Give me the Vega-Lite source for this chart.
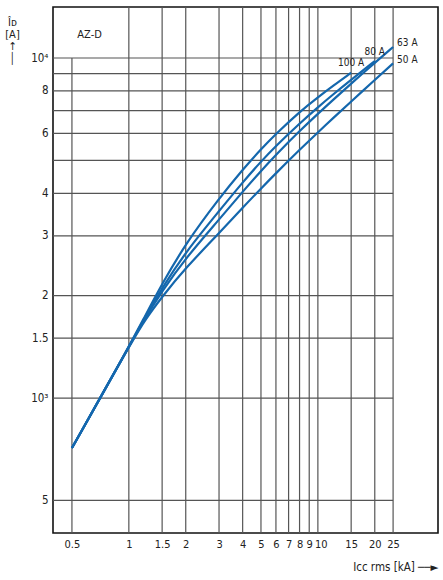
{
  "$schema": "https://vega.github.io/schema/vega-lite/v6.json",
  "width": 385,
  "height": 526,
  "autosize": {"type": "none"},
  "padding": {"left": 53, "top": 7, "right": 5, "bottom": 47},
  "background": "white",
  "config": {
    "font": "Liberation Sans Narrow, DejaVu Sans Condensed, sans-serif",
    "view": {"stroke": "#111", "strokeWidth": 1.6},
    "axis": {"labelColor": "#222", "titleColor": "#222", "titleFontWeight": "normal"}
  },
  "datasets": {
    "curves": [
      {"c": "100 A", "x": 0.5, "y": 713}, {"c": "100 A", "x": 1, "y": 1413}, {"c": "100 A", "x": 1.2, "y": 1715},
      {"c": "100 A", "x": 1.5, "y": 2168}, {"c": "100 A", "x": 2, "y": 2849}, {"c": "100 A", "x": 3, "y": 3863},
      {"c": "100 A", "x": 4, "y": 4695}, {"c": "100 A", "x": 5, "y": 5394}, {"c": "100 A", "x": 6, "y": 5984},
      {"c": "100 A", "x": 8, "y": 6947}, {"c": "100 A", "x": 10, "y": 7664}, {"c": "100 A", "x": 12, "y": 8277},
      {"c": "100 A", "x": 15, "y": 9050},
      {"c": "80 A", "x": 0.5, "y": 713}, {"c": "80 A", "x": 1, "y": 1413}, {"c": "80 A", "x": 1.2, "y": 1705},
      {"c": "80 A", "x": 1.5, "y": 2108}, {"c": "80 A", "x": 2, "y": 2692}, {"c": "80 A", "x": 3, "y": 3545},
      {"c": "80 A", "x": 4, "y": 4311}, {"c": "80 A", "x": 5, "y": 4961}, {"c": "80 A", "x": 6, "y": 5514},
      {"c": "80 A", "x": 8, "y": 6422}, {"c": "80 A", "x": 10, "y": 7166}, {"c": "80 A", "x": 12, "y": 7805},
      {"c": "80 A", "x": 15, "y": 8630}, {"c": "80 A", "x": 20, "y": 9795},
      {"c": "63 A", "x": 0.5, "y": 713}, {"c": "63 A", "x": 1, "y": 1413}, {"c": "63 A", "x": 1.2, "y": 1695},
      {"c": "63 A", "x": 1.5, "y": 2063}, {"c": "63 A", "x": 2, "y": 2582}, {"c": "63 A", "x": 3, "y": 3346},
      {"c": "63 A", "x": 4, "y": 4046}, {"c": "63 A", "x": 5, "y": 4656}, {"c": "63 A", "x": 6, "y": 5194},
      {"c": "63 A", "x": 8, "y": 6101}, {"c": "63 A", "x": 10, "y": 6852}, {"c": "63 A", "x": 12, "y": 7518},
      {"c": "63 A", "x": 15, "y": 8408}, {"c": "63 A", "x": 20, "y": 9680}, {"c": "63 A", "x": 25, "y": 10775},
      {"c": "50 A", "x": 0.5, "y": 713}, {"c": "50 A", "x": 1, "y": 1413}, {"c": "50 A", "x": 1.2, "y": 1680},
      {"c": "50 A", "x": 1.5, "y": 1987}, {"c": "50 A", "x": 2, "y": 2415}, {"c": "50 A", "x": 3, "y": 3055},
      {"c": "50 A", "x": 4, "y": 3630}, {"c": "50 A", "x": 5, "y": 4131}, {"c": "50 A", "x": 6, "y": 4584},
      {"c": "50 A", "x": 8, "y": 5370}, {"c": "50 A", "x": 10, "y": 6044}, {"c": "50 A", "x": 12, "y": 6645},
      {"c": "50 A", "x": 15, "y": 7446}, {"c": "50 A", "x": 20, "y": 8623}, {"c": "50 A", "x": 25, "y": 9641}
    ],
    "hgrid": [
      {"v": 500}, {"v": 1000}, {"v": 1500}, {"v": 2000}, {"v": 3000}, {"v": 4000},
      {"v": 5000}, {"v": 6000}, {"v": 7000}, {"v": 8000}, {"v": 9000}, {"v": 10000}
    ],
    "vgrid": [
      {"u": 1}, {"u": 1.5}, {"u": 2}, {"u": 3}, {"u": 4}, {"u": 5}, {"u": 6}, {"u": 7},
      {"u": 8}, {"u": 9}, {"u": 10}, {"u": 15}, {"u": 20}, {"u": 25}
    ],
    "labelsTop": [
      {"label": "100 A", "x": 15, "y": 9050},
      {"label": "80 A", "x": 20, "y": 9795}
    ],
    "labelsRight": [
      {"label": "63 A", "x": 25, "y": 10775},
      {"label": "50 A", "x": 25, "y": 9641}
    ]
  },
  "layer": [
    {
      "data": {"name": "hgrid"},
      "mark": {"type": "rule", "stroke": "#555555", "strokeWidth": 1.2},
      "encoding": {
        "y": {"field": "v", "type": "quantitative", "scale": {"type": "log", "domain": [401, 14125], "nice": false}},
        "x": {"datum": 0.397, "type": "quantitative", "scale": {"type": "log", "domain": [0.397, 43.2], "nice": false}},
        "x2": {"datum": 25}
      }
    },
    {
      "data": {"name": "vgrid"},
      "mark": {"type": "rule", "stroke": "#555555", "strokeWidth": 1.2},
      "encoding": {
        "x": {"field": "u", "type": "quantitative"}
      }
    },
    {
      "data": {"values": [{"u": 0.5}]},
      "mark": {"type": "rule", "stroke": "#555555", "strokeWidth": 1.2},
      "encoding": {
        "x": {"field": "u", "type": "quantitative"},
        "y": {"datum": 401, "type": "quantitative"},
        "y2": {"datum": 10000}
      }
    },
    {
      "data": {"name": "curves"},
      "mark": {"type": "line", "interpolate": "basis", "stroke": "#1467ad", "strokeWidth": 2.2},
      "encoding": {
        "x": {
          "field": "x", "type": "quantitative",
          "scale": {"type": "log", "domain": [0.397, 43.2], "nice": false},
          "axis": {
            "values": [0.5, 1, 1.5, 2, 3, 4, 5, 6, 7, 8, 9, 10, 15, 20, 25],
            "labelExpr": "'' + datum.value",
            "ticks": false, "domain": false, "grid": false,
            "labelPadding": 5, "labelFontSize": 11, "labelFlush": false, "labelOverlap": false,
            "labelOffset": {"condition": {"test": "datum.value == 10", "value": 3}, "value": 0},
            "title": "Icc rms [kA] ──►",
            "titleFontSize": 11.5,
            "titleX": 385, "titleY": 34, "titleAlign": "right", "titleBaseline": "middle", "titleAnchor": "end"
          }
        },
        "y": {
          "field": "y", "type": "quantitative",
          "scale": {"type": "log", "domain": [401, 14125], "nice": false},
          "axis": {
            "values": [500, 1000, 1500, 2000, 3000, 4000, 6000, 8000, 10000],
            "labelExpr": "datum.value == 10000 ? '10⁴' : datum.value == 1000 ? '10³' : datum.value == 500 ? '5' : '' + (datum.value / 1000)",
            "ticks": false, "domain": false, "grid": false,
            "labelPadding": 5, "labelFontSize": 11.5, "labelOverlap": false,
            "title": ["Îᴅ", "[A]", "↑", "│"],
            "titleFontSize": 11, "titleLineHeight": 12,
            "titleAngle": 0, "titleX": -41, "titleY": 9, "titleAlign": "center", "titleBaseline": "top"
          }
        },
        "detail": {"field": "c", "type": "nominal"}
      }
    },
    {
      "data": {"name": "labelsTop"},
      "mark": {"type": "text", "align": "center", "baseline": "middle", "dy": -9.5, "fontSize": 10, "fill": "#222"},
      "encoding": {
        "x": {"field": "x", "type": "quantitative"},
        "y": {"field": "y", "type": "quantitative"},
        "text": {"field": "label"}
      }
    },
    {
      "data": {"name": "labelsRight"},
      "mark": {"type": "text", "align": "left", "baseline": "middle", "dx": 4, "dy": -3.5, "fontSize": 10, "fill": "#222"},
      "encoding": {
        "x": {"field": "x", "type": "quantitative"},
        "y": {"field": "y", "type": "quantitative"},
        "text": {"field": "label"}
      }
    },
    {
      "data": {"values": [{"name": "AZ-D", "x": 0.62, "y": 11700}]},
      "mark": {"type": "text", "align": "center", "baseline": "middle", "fontSize": 11, "fill": "#222"},
      "encoding": {
        "x": {"field": "x", "type": "quantitative"},
        "y": {"field": "y", "type": "quantitative"},
        "text": {"field": "name"}
      }
    }
  ]
}
